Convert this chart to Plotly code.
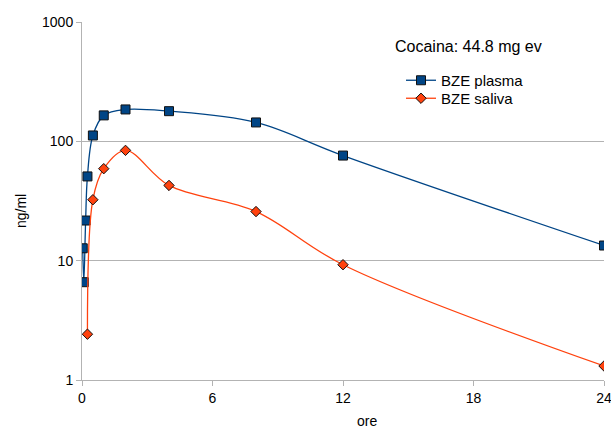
import plotly.graph_objects as go

# Sampling times (hours) and BZE concentrations (ng/ml)
plasma_hours = [0.033, 0.083, 0.167, 0.25, 0.5, 1, 2, 4, 8, 12, 24]
plasma_ngml = [12.7, 6.6, 21.7, 50.8, 112, 165, 185, 179, 144, 76, 13.4]

saliva_hours = [0.25, 0.5, 1, 2, 4, 8, 12, 24]
saliva_ngml = [2.42, 32.4, 59, 84, 42.7, 25.8, 9.25, 1.31]

x_ticks = [0, 6, 12, 18, 24]
y_ticks = [1, 10, 100, 1000]

FONT = "Liberation Sans, Arial, sans-serif"
GRID = "#b3b3b3"

# plot-area geometry in pixels
W, H = 611, 431
L, R, T, B = 82, 7, 22, 51
PW, PH = W - L - R, H - T - B


def px_x(x):
    return (x - L) / PW


def px_y(y):
    return 1 - (y - T) / PH


fig = go.Figure()
fig.add_trace(go.Scatter(
    x=plasma_hours, y=plasma_ngml, name="BZE plasma", legend="legend",
    mode="lines+markers",
    line=dict(color="#004586", width=1.3, shape="spline", smoothing=1.0),
    marker=dict(symbol="square", size=9, color="#004586",
                line=dict(color="#111111", width=1)),
))
fig.add_trace(go.Scatter(
    x=saliva_hours, y=saliva_ngml, name="BZE saliva", legend="legend2",
    mode="lines+markers",
    line=dict(color="#ff420e", width=1.3, shape="spline", smoothing=1.0),
    marker=dict(symbol="diamond", size=8, color="#ff420e",
                line=dict(color="#111111", width=1)),
))

fig.add_annotation(
    text="Cocaina: 44.8 mg ev", xref="paper", yref="paper",
    x=px_x(393), y=px_y(47), xanchor="left", yanchor="middle",
    showarrow=False, font=dict(family=FONT, size=16, color="#000000"),
)
fig.add_annotation(
    text="ng/ml", xref="paper", yref="paper", textangle=-90,
    x=px_x(21), y=px_y(211), xanchor="center", yanchor="middle",
    showarrow=False, font=dict(family=FONT, size=14, color="#000000"),
)
fig.add_annotation(
    text="ore", xref="paper", yref="paper",
    x=px_x(367), y=px_y(421), xanchor="center", yanchor="middle",
    showarrow=False, font=dict(family=FONT, size=14, color="#000000"),
)

legend_common = dict(
    xanchor="left", yanchor="top",
    bgcolor="rgba(0,0,0,0)", borderwidth=0,
    font=dict(family=FONT, size=15, color="#000000"),
    itemwidth=30,
)

fig.update_layout(
    width=W, height=H,
    margin=dict(l=L, r=R, t=T, b=B),
    paper_bgcolor="white", plot_bgcolor="white",
    font=dict(family=FONT, size=14, color="#000000"),
    showlegend=True,
    legend=dict(x=px_x(401), y=px_y(64), **legend_common),
    legend2=dict(x=px_x(401), y=px_y(82), **legend_common),
    xaxis=dict(
        range=[0, 24], tickvals=x_ticks, ticktext=[str(v) for v in x_ticks],
        showgrid=False, zeroline=False, automargin=False,
        showline=True, linecolor=GRID, linewidth=1,
        ticks="outside", ticklen=5, tickcolor=GRID,
        ticklabeloverflow="allow",
    ),
    yaxis=dict(
        type="log", range=[0, 3], tickvals=y_ticks,
        ticktext=[str(v) for v in y_ticks],
        showgrid=True, gridcolor=GRID, gridwidth=1, zeroline=False,
        automargin=False,
        showline=True, linecolor=GRID, linewidth=1,
        ticks="outside", ticklen=5, tickcolor=GRID,
    ),
)

fig.write_html("out.html")
